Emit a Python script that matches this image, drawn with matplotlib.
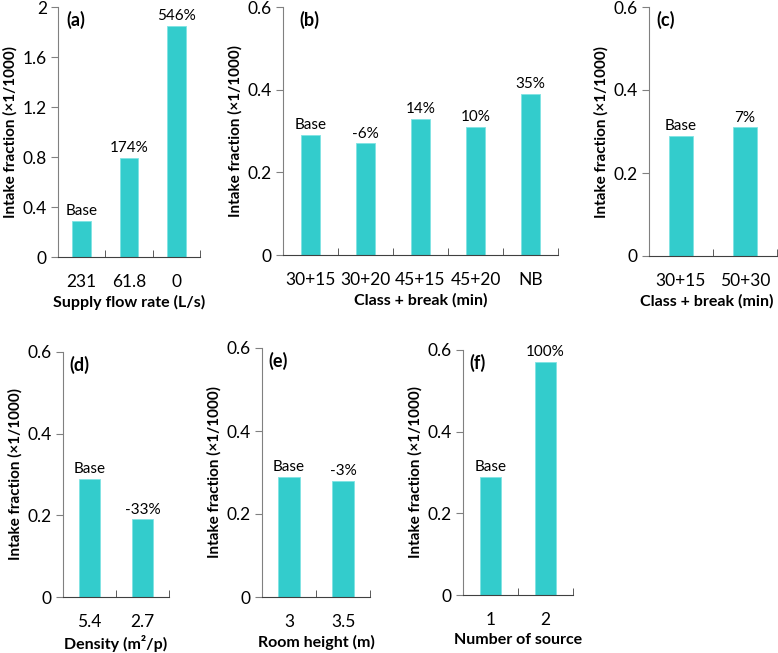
import matplotlib
matplotlib.use("Agg")
import matplotlib.pyplot as plt
from matplotlib.ticker import FixedLocator, FuncFormatter

plt.rcParams["font.family"] = ["Lato", "DejaVu Sans"]

# data
cats_a = ["231", "61.8", "0"]
vals_a = [0.29, 0.79, 1.85]
lbls_a = ["Base", "174%", "546%"]

cats_b = ["30+15", "30+20", "45+15", "45+20", "NB"]
vals_b = [0.29, 0.27, 0.33, 0.31, 0.39]
lbls_b = ["Base", "-6%", "14%", "10%", "35%"]

cats_c = ["30+15", "50+30"]
vals_c = [0.29, 0.31]
lbls_c = ["Base", "7%"]

cats_d = ["5.4", "2.7"]
vals_d = [0.29, 0.19]
lbls_d = ["Base", "-33%"]

cats_e = ["3", "3.5"]
vals_e = [0.29, 0.28]
lbls_e = ["Base", "-3%"]

cats_f = ["1", "2"]
vals_f = [0.29, 0.57]
lbls_f = ["Base", "100%"]

W, H = 778, 653
fig = plt.figure(figsize=(W / 100, H / 100), dpi=100)

color = "#33CCCC"


def panel(box, cats, vals, lbls, tag, xlabel, ymax, ystep, width=0.38, xlab_x=0.5):
    x0, y0, x1, y1 = box
    ax = fig.add_axes([x0 / W, 1 - y1 / H, (x1 - x0) / W, (y1 - y0) / H])
    n = len(cats)
    pos = list(range(n))
    ax.bar(pos, vals, width=width, color=color, edgecolor="#7fe3e3", linewidth=0.6)
    for p, v, l in zip(pos, vals, lbls):
        ax.annotate(l, (p, v), xytext=(0, 2), textcoords="offset points",
                    ha="center", va="bottom", fontsize=11)
    ax.set_xlim(-0.5, n - 0.5)
    ax.set_ylim(0, ymax)
    ticks = [i * ystep for i in range(int(round(ymax / ystep)) + 1)]
    ax.yaxis.set_major_locator(FixedLocator(ticks))
    ax.yaxis.set_major_formatter(FuncFormatter(lambda v, _: "%g" % round(v, 2)))
    ax.set_xticks(pos)
    ax.set_xticklabels(cats)
    ax.xaxis.set_minor_locator(FixedLocator([i - 0.5 for i in range(n + 1)]))
    ax.tick_params(axis="x", which="major", length=0, pad=12, labelsize=12.5)
    ax.tick_params(axis="x", which="minor", length=5, direction="in", color="#404040")
    ax.tick_params(axis="y", length=5, direction="out", labelsize=12.5, color="#808080", pad=3)
    for s in ["top", "right"]:
        ax.spines[s].set_visible(False)
    ax.spines["left"].set_color("#808080")
    ax.spines["bottom"].set_color("#404040")
    ax.set_xlabel(xlabel, fontsize=11.5, fontweight="bold", labelpad=4)
    ax.xaxis.label.set_x(xlab_x)
    ax.set_ylabel("Intake fraction (×1/1000)", fontsize=11, fontweight="bold", labelpad=4)
    ax.text(0.06, 0.985, tag, transform=ax.transAxes, ha="left", va="top",
            fontsize=13, fontweight="bold")
    return ax


panel((58, 7, 200, 257), cats_a, vals_a, lbls_a, "(a)", "Supply flow rate (L/s)", 2.0, 0.4, 0.4)
panel((283, 7, 558, 255), cats_b, vals_b, lbls_b, "(b)", "Class + break (min)", 0.6, 0.2, 0.35)
panel((649, 7, 777, 256), cats_c, vals_c, lbls_c, "(c)", "Class + break (min)", 0.6, 0.2, 0.36, 0.45)
panel((63, 352, 169, 597), cats_d, vals_d, lbls_d, "(d)", "Density (m²/p)", 0.6, 0.2, 0.4)
panel((262, 348, 370, 597), cats_e, vals_e, lbls_e, "(e)", "Room height (m)", 0.6, 0.2, 0.4)
panel((463, 350, 573, 595), cats_f, vals_f, lbls_f, "(f)", "Number of source", 0.6, 0.2, 0.38)

fig.savefig("out.png", dpi=100)
